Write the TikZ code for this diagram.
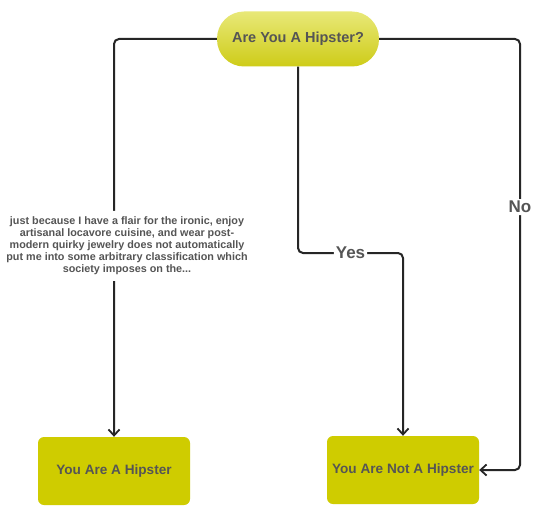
\documentclass[tikz,border=0pt]{standalone}
\usepackage{fontspec}
\setmainfont{Liberation Sans}
\usepackage{tikz}
\usetikzlibrary{arrows.meta,positioning}
\definecolor{olive}{RGB}{207,204,0}
\definecolor{pilltop}{RGB}{232,232,120}
\definecolor{pillbot}{RGB}{206,204,24}
\definecolor{txtgray}{RGB}{85,85,85}

\begin{document}
\begin{tikzpicture}[x=1pt, y=-1pt, every node/.style={font=\bfseries, text=txtgray}]
\tikzset{question/.style={rounded corners=27pt, top color=pilltop, bottom color=pillbot, draw=none, minimum width=162pt, minimum height=55pt, font=\fontsize{14.5}{16}\selectfont\bfseries}}
\tikzset{answer/.style={rounded corners=6pt, fill=olive, draw=none, minimum width=152pt, minimum height=68pt, font=\fontsize{13.6}{15}\selectfont\bfseries}}
\tikzset{wire/.style={line width=2pt, draw=black!85, rounded corners=5pt, -{Straight Barb[length=6pt,width=11pt,line width=1.8pt]}}}
\tikzset{lbl/.style={fill=white, inner sep=2pt, font=\fontsize{17}{19}\selectfont\bfseries}}
\tikzset{excuse/.style={fill=white, inner sep=6pt, align=center, font=\fontsize{10.8}{12}\selectfont\bfseries}}
\fill[white] (0,0) rectangle (540,513);
\useasboundingbox (0,0) rectangle (540,513);
\node[question] (q) at (298,39) {Are You A Hipster?};
\node[answer] (hip) at (114,471) {You Are A Hipster};
\node[answer] (nothip) at (403,470) {You Are Not A Hipster};
\coordinate (yesbend) at (298,253);
\coordinate (nobend) at (520,39);
% left branch
\draw[wire] (q.west) -| (hip.north)
  node[excuse, pos=0.76, xshift=13pt] {just because I have a flair for the ironic, enjoy\\
  artisanal locavore cuisine, and wear post-\\
  modern quirky jewelry does not automatically\\
  put me into some arbitrary classification which\\
  society imposes on the...};
% middle branch
\draw[wire] (q.south) -- (yesbend) -| (nothip.north) node[lbl, pos=0.25] {Yes};
% right branch
\draw[wire] (q.east) -- (nobend) |- (nothip.east) node[lbl, pos=0.195] {No};
\end{tikzpicture}
\end{document}
